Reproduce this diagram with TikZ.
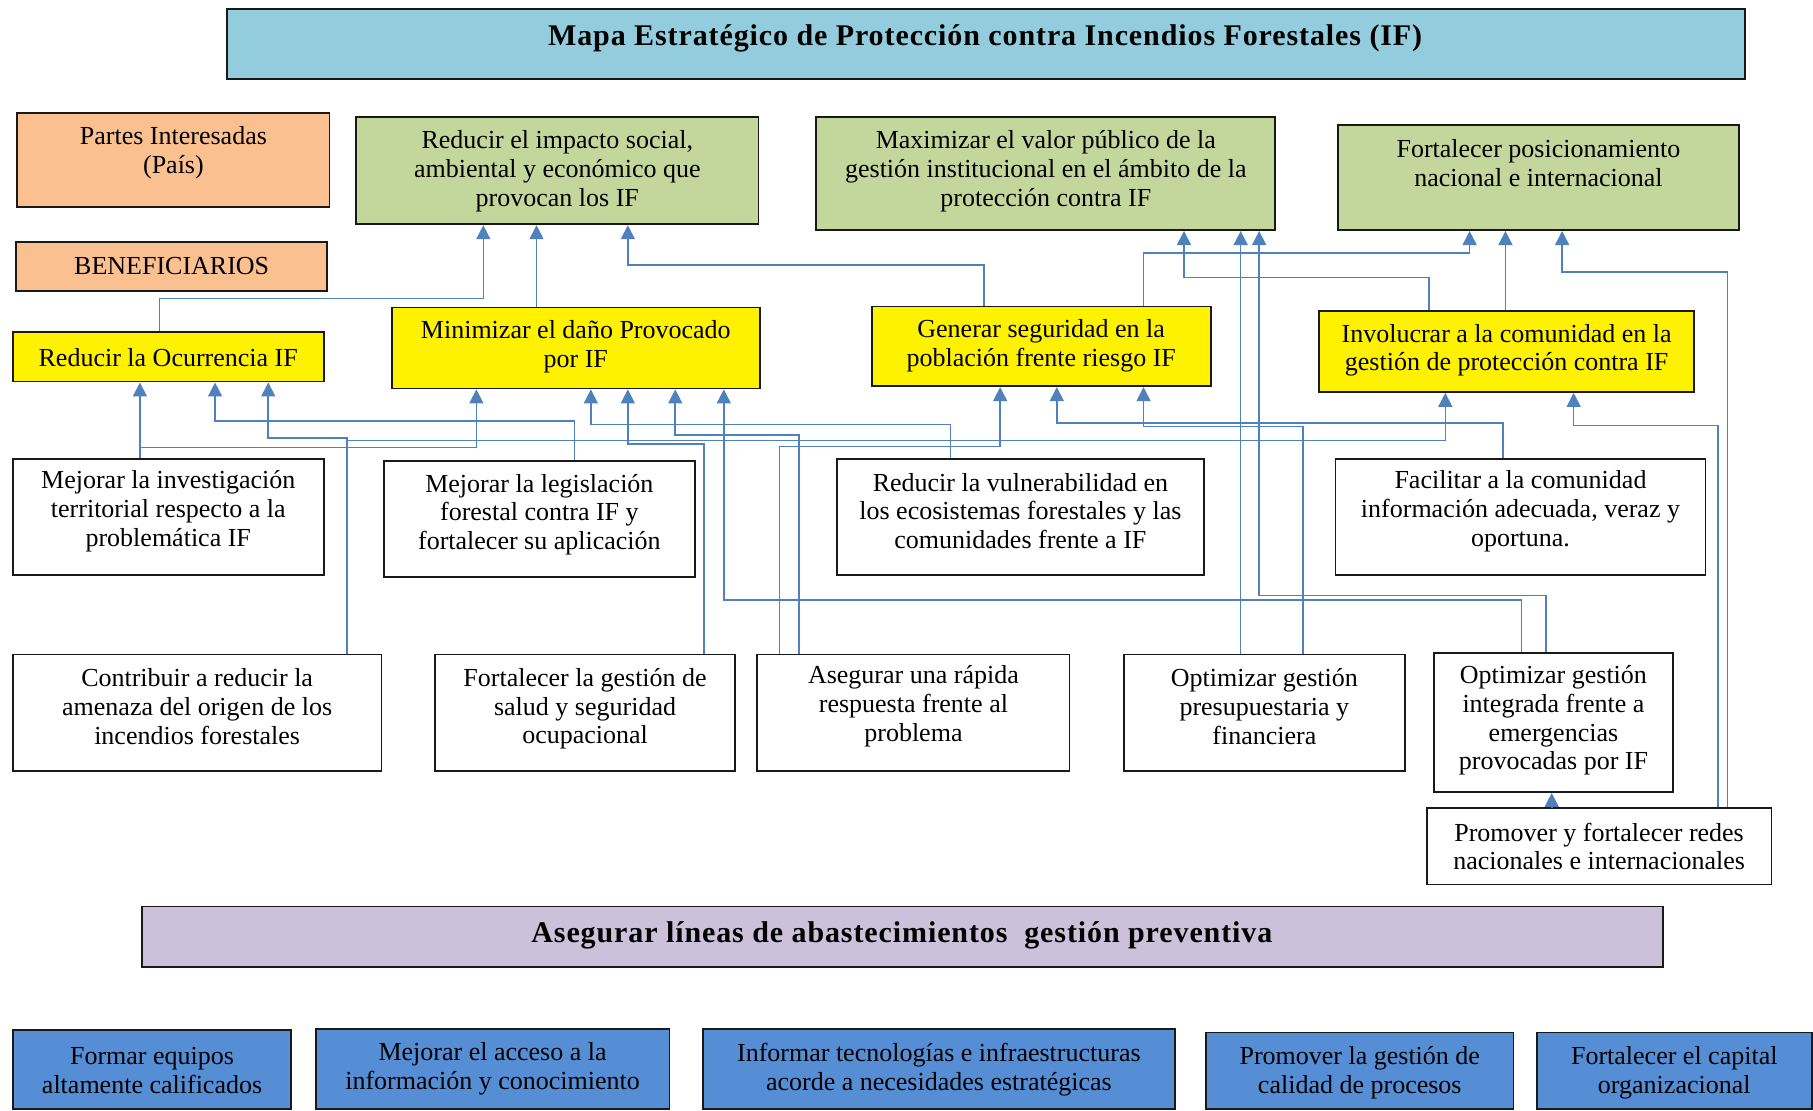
\documentclass[tikz,border=0pt]{standalone}
\usepackage{fontspec}
\setmainfont{Liberation Serif}
\usetikzlibrary{arrows.meta,fit}
\definecolor{tblue}{HTML}{93CDDD}
\definecolor{peach}{HTML}{FAC090}
\definecolor{lgreen}{HTML}{C3D69B}
\definecolor{lpurple}{HTML}{CCC1DA}
\definecolor{mblue}{HTML}{558ED5}
\definecolor{conncol}{HTML}{4F81BD}
\newcommand\mybox[8]{%
  \node[box,#2,fit={(#3,#4)(#5,#6)}] (#1) {};
  \node[txt] (#1t) at ({(#3+#5)/2},#7) {#8};
}
\begin{document}
\begin{tikzpicture}[x=0.578125pt,y=-0.578125pt,
  box/.style={draw=black!90, line width=0.9pt, inner sep=0pt},
  txt/.style={align=center, font=\fontsize{13}{14.4}\selectfont, inner sep=0pt},
  bigtxt/.style={align=center, font=\fontsize{15}{17}\selectfont\bfseries\addfontfeature{LetterSpace=3}, inner sep=0pt},
  conn/.style={draw=conncol, line width=0.8pt, -{Triangle[width=7pt,length=7pt]}}]
\useasboundingbox (0,0) rectangle (1568,960);

% title
\node[box,fill=tblue,fit={(196,8)(1509,68)}] (title) {};
\node[bigtxt] (titlet) at (852,33) {Mapa Estratégico de Protección contra Incendios Forestales (IF)};

% stakeholders
\mybox{partes}{fill=peach}{15}{98}{285}{179}{132}{Partes Interesadas\\(País)}
\mybox{benef}{fill=peach}{14}{209}{283}{252}{230}{BENEFICIARIOS}

% green
\mybox{gA}{fill=lgreen}{308}{101}{656}{194}{148}{Reducir el impacto social,\\ambiental y económico que\\provocan los IF}
\mybox{gB}{fill=lgreen}{706}{101}{1103}{199}{148}{Maximizar el valor público de la\\gestión institucional en el ámbito de la\\protección contra IF}
\mybox{gC}{fill=lgreen}{1157}{108}{1504}{199}{141}{Fortalecer posicionamiento\\nacional e internacional}

% yellow
\mybox{yA}{fill=yellow}{11}{287}{280}{330}{309}{Reducir la Ocurrencia IF}
\mybox{yB}{fill=yellow}{339}{266}{657}{336}{300}{Minimizar el daño Provocado\\por IF}
\mybox{yC}{fill=yellow}{754}{265}{1047}{334}{299}{Generar seguridad en la\\población frente riesgo IF}
\mybox{yD}{fill=yellow}{1141}{269}{1465}{339}{303}{Involucrar a la comunidad en la\\gestión de protección contra IF}

% row 3
\mybox{inv}{fill=white}{11}{397}{280}{497}{442}{Mejorar la investigación\\territorial respecto a la\\problemática IF}
\mybox{leg}{fill=white}{332}{399}{601}{499}{445}{Mejorar la legislación\\forestal contra IF y\\fortalecer su aplicación}
\mybox{vul}{fill=white}{724}{397}{1041}{497}{442}{Reducir la vulnerabilidad en\\los ecosistemas forestales y las\\comunidades frente a IF}
\mybox{fac}{fill=white}{1155}{397}{1475}{497}{442}{Facilitar a la comunidad\\información adecuada, veraz y\\oportuna.}

% row 4
\mybox{contrib}{fill=white}{11}{566}{330}{667}{611}{Contribuir a reducir la\\amenaza del origen de los\\incendios forestales}
\mybox{salud}{fill=white}{376}{566}{636}{667}{613}{Fortalecer la gestión de\\salud y seguridad\\ocupacional}
\mybox{aseg}{fill=white}{655}{566}{925}{667}{611}{Asegurar una rápida\\respuesta frente al\\problema}
\mybox{pres}{fill=white}{972}{566}{1215}{667}{611}{Optimizar gestión\\presupuestaria y\\financiera}
\mybox{integ}{fill=white}{1240}{565}{1447}{685}{623}{Optimizar gestión\\integrada frente a\\emergencias\\provocadas por IF}
\mybox{prom}{fill=white}{1234}{699}{1532}{765}{732}{Promover y fortalecer redes\\nacionales e internacionales}

% purple
\node[box,fill=lpurple,fit={(123,784)(1438,836)}] (purp) {};
\node[bigtxt] (purpt) at (780,809) {Asegurar líneas de abastecimientos\ \ gestión preventiva};

% bottom
\mybox{bA}{fill=mblue}{11}{891}{252}{959}{926}{Formar equipos\\altamente calificados}
\mybox{bB}{fill=mblue}{273}{890}{579}{959}{924}{Mejorar el acceso a la\\información y conocimiento}
\mybox{bC}{fill=mblue}{608}{890}{1016}{959}{925}{Informar tecnologías e infraestructuras\\acorde a necesidades estratégicas}
\mybox{bD}{fill=mblue}{1043}{893}{1309}{959}{928}{Promover la gestión de\\calidad de procesos}
\mybox{bE}{fill=mblue}{1329}{893}{1567}{959}{928}{Fortalecer el capital\\organizacional}

% connectors to green
\draw[conn] (yA.north -| 138,0) |- (418,258) -- (gA.south -| 418,0);
\draw[conn] (yB.north -| 464,0) -- (gA.south -| 464,0);
\draw[conn] (yC.north -| 851,0) |- (543,229) -- (gA.south -| 543,0);
\draw[conn] (yD.north -| 1236,0) |- (1024,240) -- (gB.south -| 1024,0);
\draw[conn] (pres.north -| 1073,0) -- (gB.south -| 1073,0);
\draw[conn] (integ.north -| 1337,0) |- (1089,515) -- (gB.south -| 1089,0);
\draw[conn] (yC.north -| 989,0) |- (1271,219) -- (gC.south -| 1271,0);
\draw[conn] (yD.north -| 1302,0) -- (gC.south -| 1302,0);
\draw[conn] (prom.north -| 1494,0) |- (1351,235) -- (gC.south -| 1351,0);

% connectors to yellow
\draw[conn] (inv.north -| 121,0) -- (yA.south -| 121,0);
\draw[conn] (leg.north -| 497,0) |- (186,364) -- (yA.south -| 186,0);
\draw[conn] (contrib.north -| 300,0) |- (232,379) -- (yA.south -| 232,0);
\draw[conn] (inv.north -| 121,0) |- (412,387) -- (yB.south -| 412,0);
\draw[conn] (vul.north -| 822,0) |- (511,367) -- (yB.south -| 511,0);
\draw[conn] (salud.north -| 609,0) |- (543,384) -- (yB.south -| 543,0);
\draw[conn] (aseg.north -| 691,0) |- (584,376) -- (yB.south -| 584,0);
\draw[conn] (integ.north -| 1316,0) |- (626,519) -- (yB.south -| 626,0);
\draw[conn] (aseg.north -| 674,0) |- (865,386) -- (yC.south -| 865,0);
\draw[conn] (fac.north -| 1300,0) |- (914,366) -- (yC.south -| 914,0);
\draw[conn] (pres.north -| 1127,0) |- (989,369) -- (yC.south -| 989,0);
\draw[conn] (contrib.north -| 300,0) |- (1250,381) -- (yD.south -| 1250,0);
\draw[conn] (prom.north -| 1486,0) |- (1361,368) -- (yD.south -| 1361,0);
\draw[conn] (prom.north -| 1342,0) -- (integ.south -| 1342,0);
\end{tikzpicture}
\end{document}
